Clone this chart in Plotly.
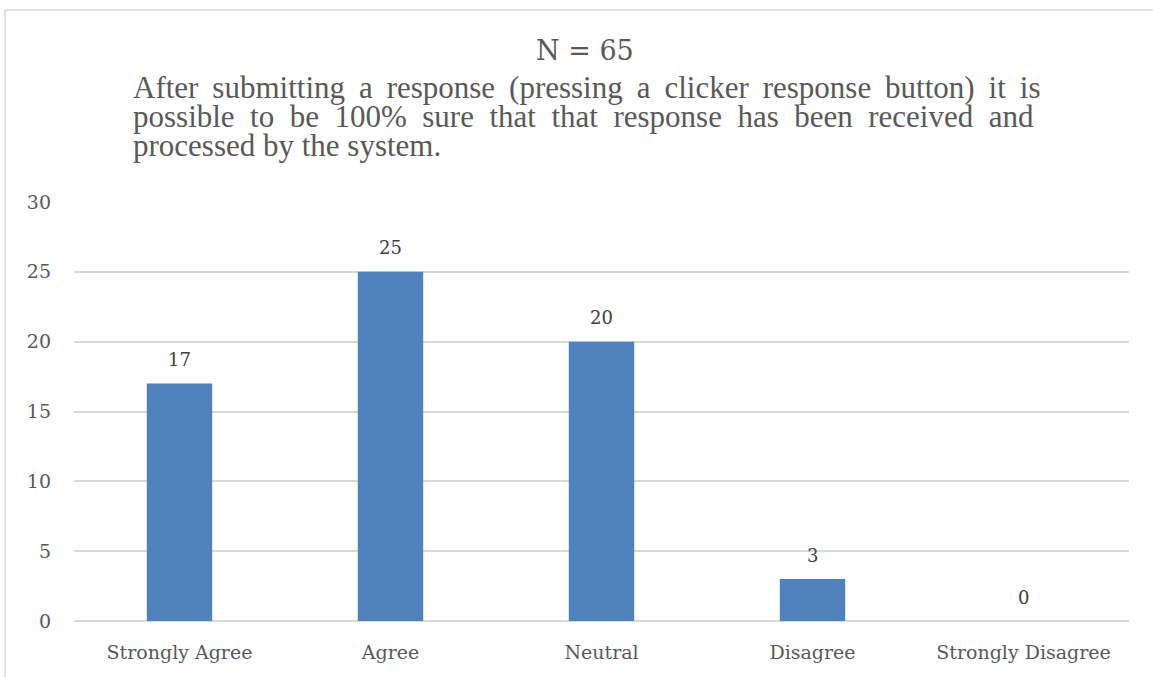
import plotly.graph_objects as go

categories = ["Strongly Agree", "Agree", "Neutral", "Disagree", "Strongly Disagree"]
counts = [17, 25, 20, 3, 0]
y_ticks = [0, 5, 10, 15, 20, 25, 30]

title_main = "N = 65"
question_lines = [
    "After submitting a response (pressing a clicker response button) it is",
    "possible to be 100% sure that that response has been received and",
    "processed by the system.",
]
# extra word spacing used to imitate the justified paragraph
gap_fill = ["\u2009", "\u00a0", ""]

W, H = 1153, 677
L, R, T, B = 74, 24, 202, 56
pw, ph = W - L - R, H - T - B

def px(x):
    return (x - L) / pw

def py(y):
    return (H - B - y) / ph

fig = go.Figure()
fig.add_trace(go.Bar(
    x=categories, y=counts,
    marker=dict(color="#4f81bd", line=dict(width=0)),
    width=0.31,
    hoverinfo="x+y",
))

for c, v in zip(categories, counts):
    fig.add_annotation(x=c, y=v, text=str(v), showarrow=False, yshift=24,
                       yanchor="middle",
                       font=dict(family="DejaVu Serif", size=18, color="#404040"))

fig.add_annotation(text=title_main, xref="paper", yref="paper",
                   x=px(585), y=py(50), xanchor="center", yanchor="middle",
                   showarrow=False,
                   font=dict(family="DejaVu Serif", size=27, color="#595959"))
line_y = [88, 117, 146]
for ln, fill, yy in zip(question_lines, gap_fill, line_y):
    txt = (" " + fill).join(ln.split(" ")) if fill else ln
    fig.add_annotation(text=txt, xref="paper", yref="paper",
                       x=px(131), y=py(yy), xanchor="left", yanchor="middle",
                       showarrow=False,
                       font=dict(family="Liberation Serif", size=31, color="#595959"))

fig.add_shape(type="line", xref="paper", yref="paper",
              x0=px(5), x1=px(1160), y0=py(10), y1=py(10),
              line=dict(color="#d9d9d9", width=1.5))
fig.add_shape(type="line", xref="paper", yref="paper",
              x0=px(5), x1=px(5), y0=py(10), y1=py(700),
              line=dict(color="#d9d9d9", width=1.5))

fig.update_layout(
    width=W, height=H,
    margin=dict(l=L, r=R, t=T, b=B, autoexpand=False),
    paper_bgcolor="white", plot_bgcolor="white",
    showlegend=False,
    bargap=0.69,
    xaxis=dict(showgrid=False, showline=False, ticks="", ticklabelstandoff=18,
               tickfont=dict(family="DejaVu Serif", size=19, color="#595959")),
    yaxis=dict(range=[0, 30], tickvals=y_ticks, showgrid=True, gridcolor="#d9d9d9", gridwidth=1.5,
               zeroline=True, zerolinecolor="#d9d9d9", zerolinewidth=1.5, showline=False,
               ticks="", ticklabelstandoff=22,
               tickfont=dict(family="DejaVu Serif", size=19, color="#595959")),
)

fig.write_html("out.html", config={"displayModeBar": False},
               post_script="document.body.style.margin='0';document.body.style.overflow='hidden';")
